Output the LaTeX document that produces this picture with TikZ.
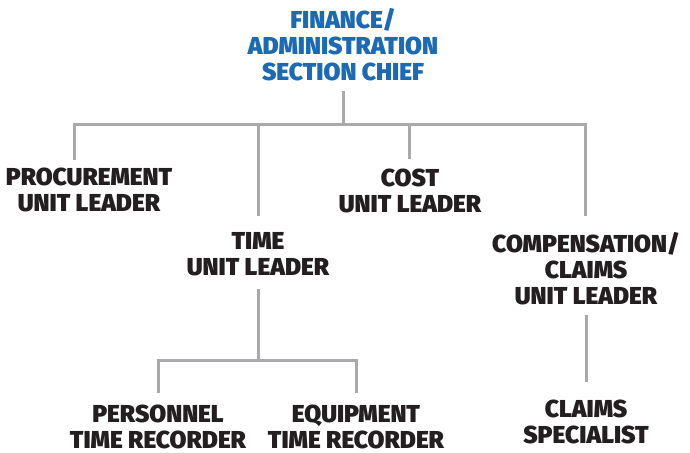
\documentclass[tikz,border=0pt]{standalone}
\usepackage{fontspec}
\setmainfont{Fira Sans}[BoldFont={Fira Sans Black}]
\definecolor{chiefblue}{HTML}{1B6AB3}
\definecolor{txtblack}{HTML}{231F20}
\definecolor{linegray}{HTML}{A7A9AC}
\tikzset{
  box/.style={anchor=north, inner sep=0pt, align=center, text=txtblack,
    font=\fontsize{24.5bp}{26bp}\selectfont\bfseries},
  chiefbox/.style={box, text=chiefblue},
  conn/.style={draw=linegray, line width=3bp}
}
\begin{document}
\begin{tikzpicture}[x=1bp,y=-1bp]
\useasboundingbox (0,0) rectangle (690,453);
\node[chiefbox] (chief) at (343,8) {FINANCE/\\ADMINISTRATION\\SECTION CHIEF};
\node[box] (proc) at (89,168) {PROCUREMENT\\UNIT LEADER};
\node[box] (cost) at (410,169) {COST\\UNIT LEADER};
\node[box] (time) at (258,232) {TIME\\UNIT LEADER};
\node[box] (comp) at (586,232) {COMPENSATION/\\CLAIMS\\UNIT LEADER};
\node[box] (pers) at (158,405) {PERSONNEL\\TIME RECORDER};
\node[box] (equip) at (356,405) {EQUIPMENT\\TIME RECORDER};
\node[box] (claims) at (586,400) {CLAIMS\\SPECIALIST};
\coordinate (bus) at (343,125);
\coordinate (bus2) at (258,360);
\draw[conn] ([yshift=-10bp]chief.south) -- (bus);
\draw[conn] ([xshift=-15bp,yshift=8bp]proc.north) |- (bus) -| ([xshift=-1bp,yshift=16bp]comp.north);
\draw[conn] ([yshift=16bp]time.north) -- (time.north |- bus);
\draw[conn] ([xshift=-1bp,yshift=10bp]cost.north) -- ([xshift=-1bp]cost.north |- bus);
\draw[conn] ([yshift=-13bp]time.south) -- (bus2);
\draw[conn] ([yshift=12bp]pers.north) |- (bus2) -| ([yshift=12bp]equip.north);
\draw[conn] ([yshift=-10bp]comp.south) -- ([yshift=18bp]comp.south |- claims.north);
\end{tikzpicture}
\end{document}
